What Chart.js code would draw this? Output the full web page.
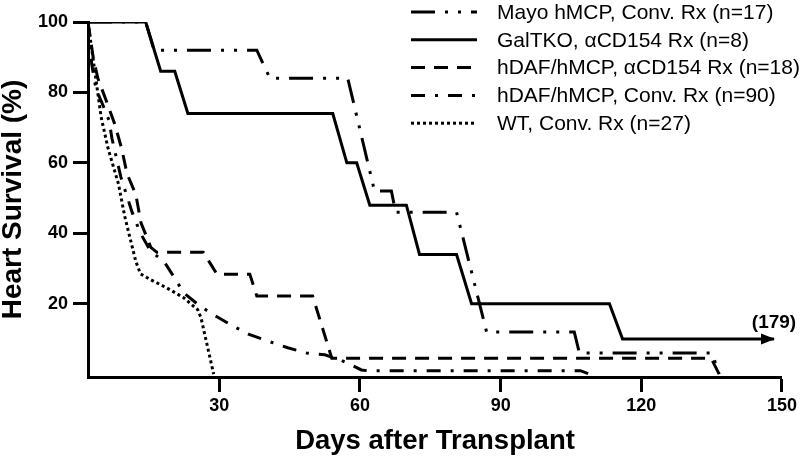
<!DOCTYPE html>
<html>
<head>
<meta charset="utf-8">
<script src="https://cdn.jsdelivr.net/npm/chart.js@4.4.1/dist/chart.umd.min.js"></script>
<style>
html,body{margin:0;padding:0;background:#fff;}
#wrap{width:800px;height:460px;}
</style>
</head>
<body>
<div id="wrap"><canvas id="c" width="800" height="460"></canvas></div>
<script>
// ---- data ----
const seriesNames = [
  "Mayo hMCP, Conv. Rx (n=17)",
  "GalTKO, \u03B1CD154 Rx (n=8)",
  "hDAF/hMCP, \u03B1CD154 Rx (n=18)",
  "hDAF/hMCP, Conv. Rx (n=90)",
  "WT, Conv. Rx (n=27)"
];
const mayoDays = [2, 14.3, 16.1, 38, 40.8, 57.4, 63.1, 66.7, 67.6, 80.6, 87, 105.7, 106.8, 135.1, 136.6];
const mayoSurv = [100, 100, 92, 92, 84, 84, 52, 52, 46, 46, 12, 12, 6, 6, 0];
const galDays = [2, 14.3, 17.5, 20.5, 23.3, 54.2, 57.2, 59.3, 62.1, 69.9, 72.7, 80.6, 83.8, 113.2, 116, 148.3];
const galSurv = [100, 100, 86, 86, 74, 74, 60, 60, 48, 48, 34, 34, 20, 20, 10, 10];
const dafCdDays = [2, 3.1, 4.1, 5.8, 7.7, 9.2, 10.3, 12.2, 13.3, 15.4, 16.7, 26.6, 29.5, 36.5, 38, 49.9, 54, 134.9, 136.6];
const dafCdSurv = [100, 90, 84, 78, 71, 64, 57, 51, 43, 36, 34.6, 34.6, 28.4, 28.4, 22.2, 22.2, 4.5, 4.5, 0];
const dafConvDays = [2, 2.8, 3.7, 5.3, 6.5, 7.1, 9, 11.4, 13.2, 15.3, 18.2, 20.5, 22.4, 25.8, 29.5, 32.9, 36.5, 40.8, 44.6, 48.6, 52.5, 55.9, 58.2, 60.3, 61.5, 107, 109];
const dafConvSurv = [100, 88, 81, 76, 72, 67, 56, 46, 40, 35, 32, 27.3, 23.1, 19.4, 16.3, 13.7, 11.2, 9.2, 7.5, 6, 5.5, 4, 2.6, 1.2, 1, 1, 0];
const wtDays = [2, 4.8, 6.3, 8.5, 9.8, 10.9, 12.2, 13.2, 15.4, 18.8, 22.4, 25.4, 26.1, 28.8];
const wtSurv = [100, 73, 64, 54, 45, 39, 32, 28.5, 26.8, 24.5, 21.7, 18.3, 16, 0];
const xTicks = [30, 60, 90, 120, 150];
const yTicks = [20, 40, 60, 80, 100];
const xTitle = "Days after Transplant";
const yTitle = "Heart Survival (%)";
const survivorLabel = "(179)";

// ---- build ----
const FONT = "'Liberation Sans', Arial, Helvetica, sans-serif";
Chart.defaults.font.family = FONT;
Chart.defaults.color = '#000';

function pts(xs, ys) { return xs.map((x, i) => ({x: x, y: ys[i]})); }
const dashes = [[24, 10, 3, 10, 3, 10], [], [14, 9], [14, 10, 3, 10], [3, 3]];
const allData = [
  pts(mayoDays, mayoSurv),
  pts(galDays, galSurv),
  pts(dafCdDays, dafCdSurv),
  pts(dafConvDays, dafConvSurv),
  pts(wtDays, wtSurv)
];
const datasets = allData.map((d, i) => ({
  label: seriesNames[i],
  data: d,
  borderColor: '#000',
  backgroundColor: '#000',
  borderWidth: 3,
  borderDash: dashes[i],
  borderCapStyle: 'butt',
  borderJoinStyle: 'miter',
  pointRadius: 0,
  tension: 0,
  fill: false
}));

const overlay = {
  id: 'overlay',
  afterDatasetsDraw(chart) {
    const ctx = chart.ctx;
    const xs = chart.scales.x, ys = chart.scales.y;
    const gd = chart.data.datasets[1].data;
    const last = gd[gd.length - 1];
    const px = xs.getPixelForValue(last.x), py = ys.getPixelForValue(last.y);
    ctx.save();
    ctx.fillStyle = '#000';
    ctx.beginPath();
    ctx.moveTo(px + 1, py);
    ctx.lineTo(px - 13, py - 5.5);
    ctx.lineTo(px - 13, py + 5.5);
    ctx.closePath();
    ctx.fill();
    ctx.font = 'bold 19px ' + FONT;
    ctx.textAlign = 'center';
    ctx.textBaseline = 'middle';
    ctx.fillText(survivorLabel, px, py - 16);
    // legend
    ctx.font = '21px ' + FONT;
    ctx.textAlign = 'left';
    chart.data.datasets.forEach((ds, i) => {
      const y = 12 + i * 27.8;
      ctx.strokeStyle = '#000';
      ctx.lineWidth = 3;
      ctx.lineCap = 'butt';
      ctx.setLineDash(ds.borderDash || []);
      ctx.beginPath();
      ctx.moveTo(411, y);
      ctx.lineTo(477, y);
      ctx.stroke();
      ctx.setLineDash([]);
      ctx.fillText(ds.label, 497, y + 1);
    });
    ctx.restore();
  }
};

new Chart(document.getElementById('c'), {
  type: 'line',
  data: {datasets: datasets},
  options: {
    responsive: false,
    animation: false,
    layout: {padding: {top: 22, right: 17, bottom: 0, left: 0}},
    plugins: {legend: {display: false}, tooltip: {enabled: false}},
    scales: {
      x: {
        type: 'linear', min: 2, max: 150,
        afterBuildTicks: s => { s.ticks = xTicks.map(v => ({value: v})); },
        afterFit: s => { s.height = 83; },
        border: {display: true, color: '#000', width: 3},
        grid: {drawOnChartArea: false, drawTicks: true, tickLength: 15, tickWidth: 3, tickColor: '#000'},
        ticks: {color: '#000', font: {size: 18, weight: 'bold'}, padding: 3, maxRotation: 0},
        title: {display: true, text: xTitle, color: '#000', font: {size: 27.5, weight: 'bold', lineHeight: 1}, padding: {top: 0, bottom: 5}}
      },
      y: {
        type: 'linear', min: -0.8, max: 100,
        afterBuildTicks: s => { s.ticks = yTicks.map(v => ({value: v})); },
        afterFit: s => { s.width = 88; },
        border: {display: true, color: '#000', width: 3},
        grid: {drawOnChartArea: false, drawTicks: true, tickLength: 15, tickWidth: 3, tickColor: '#000'},
        ticks: {color: '#000', font: {size: 18, weight: 'bold'}, padding: 5},
        title: {display: true, text: yTitle, color: '#000', font: {size: 28, weight: 'bold', lineHeight: 1}, padding: {top: -1, bottom: 0}}
      }
    }
  },
  plugins: [overlay]
});
</script>
</body>
</html>
